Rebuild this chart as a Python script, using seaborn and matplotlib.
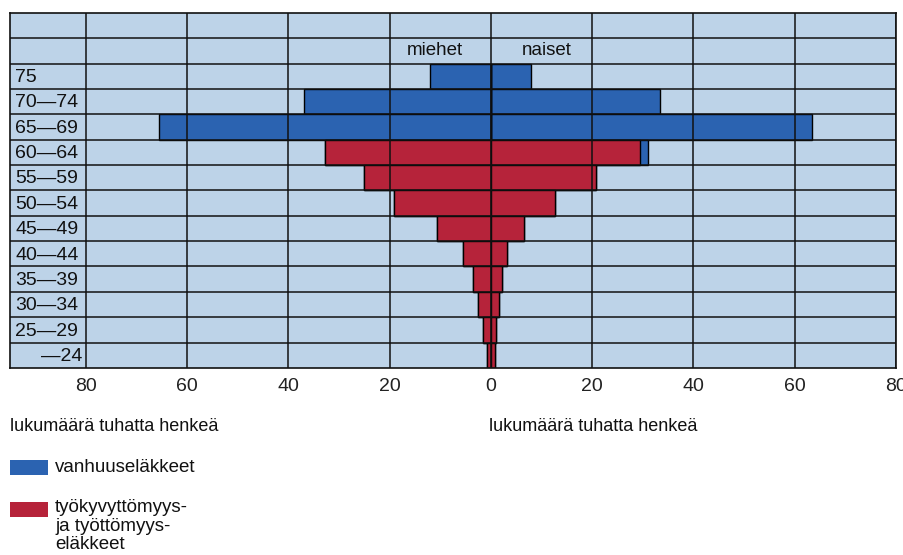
import numpy as np
import pandas as pd
import matplotlib
matplotlib.use("Agg")
import matplotlib.pyplot as plt
import seaborn as sns
from matplotlib.patches import Rectangle

# age groups, top to bottom
ages = ["75", "70—74", "65—69", "60—64", "55—59", "50—54",
        "45—49", "40—44", "35—39", "30—34", "25—29", "—24"]

# thousands of persons
men_old = [12, 37, 65.5, 0, 0, 0, 0, 0, 0, 0, 0, 0]
men_dis = [0, 0, 0, 32.7, 25, 19.2, 10.7, 5.5, 3.5, 2.5, 1.5, 0.7]
women_old = [8, 33.5, 63.5, 1.5, 0, 0, 0, 0, 0, 0, 0, 0]
women_dis = [0, 0, 0, 29.5, 20.8, 12.6, 6.6, 3.2, 2.2, 1.6, 1.1, 0.8]

xticks = [-80, -60, -40, -20, 0, 20, 40, 60, 80]

blue = "#2b63b1"
red = "#b6233a"
bg = "#bdd3e8"
ink = "#111111"

df = pd.DataFrame({
    "age": ages,
    "men_total": -(np.array(men_old) + np.array(men_dis)),
    "men_dis": -np.array(men_dis),
    "women_total": np.array(women_old) + np.array(women_dis),
    "women_dis": np.array(women_dis),
})

sns.set_style("white")
plt.rcParams["font.family"] = ["Liberation Sans", "DejaVu Sans"]

fig = plt.figure(figsize=(9.04, 5.55), dpi=100)
ax = fig.add_axes([0.011, 0.337, 0.980, 0.640])
ax.set_facecolor(bg)

kw = dict(y="age", orient="h", width=1.0, edgecolor="black", linewidth=1.0,
          saturation=1, ax=ax)
sns.barplot(data=df, x="men_total", color=blue, **kw)
sns.barplot(data=df, x="women_total", color=blue, **kw)
sns.barplot(data=df, x="men_dis", color=red, **kw)
sns.barplot(data=df, x="women_dis", color=red, **kw)

ax.set_xlim(-95, 80)
ax.set_ylim(len(ages) - 0.5, -2.5)

# grid over the bars
ax.set_axisbelow(False)
ax.set_xticks(xticks)
ax.set_xticklabels([str(abs(v)) for v in xticks], fontsize=14)
ax.set_yticks(np.arange(-1.5, len(ages) - 0.5, 1), minor=True)
ax.set_yticks([])
ax.grid(True, axis="x", which="major", color=ink, lw=1.1)
ax.grid(True, axis="y", which="minor", color=ink, lw=1.1)
ax.tick_params(axis="x", length=0, pad=7, colors="#222222")
ax.tick_params(axis="y", which="both", length=0)
ax.set_xlabel("")
ax.set_ylabel("")
for s in ax.spines.values():
    s.set_color(ink)
    s.set_linewidth(1.2)

# age labels in the left column
for i, a in enumerate(ages):
    if a.startswith("—"):
        ax.text(-80.6, i + 0.05, a, ha="right", va="center", fontsize=14, color=ink)
    else:
        ax.text(-94, i + 0.05, a, ha="left", va="center", fontsize=14, color=ink)

ax.text(-11, -1, "miehet", ha="center", va="center", fontsize=13.5, color=ink)
ax.text(11, -1, "naiset", ha="center", va="center", fontsize=13.5, color=ink)

fig.text(0.011, 0.224, "lukumäärä tuhatta henkeä", fontsize=13, color=ink)
fig.text(0.541, 0.224, "lukumäärä tuhatta henkeä", fontsize=13, color=ink)

# legend
W, H = 904, 555
fig.patches.append(Rectangle((10 / W, 1 - 475 / H), 38 / W, 15 / H, transform=fig.transFigure,
                             facecolor=blue, edgecolor="none"))
fig.patches.append(Rectangle((10 / W, 1 - 517 / H), 38 / W, 15 / H, transform=fig.transFigure,
                             facecolor=red, edgecolor="none"))
fig.text(55 / W, 1 - 467 / H, "vanhuuseläkkeet", fontsize=13.5, color=ink, va="center")
fig.text(55 / W, 1 - 499 / H, "työkyvyttömyys-\nja työttömyys-\neläkkeet", fontsize=13.5,
         color=ink, va="top", linespacing=1.12)

fig.savefig("out.png", dpi=100, facecolor="white")
